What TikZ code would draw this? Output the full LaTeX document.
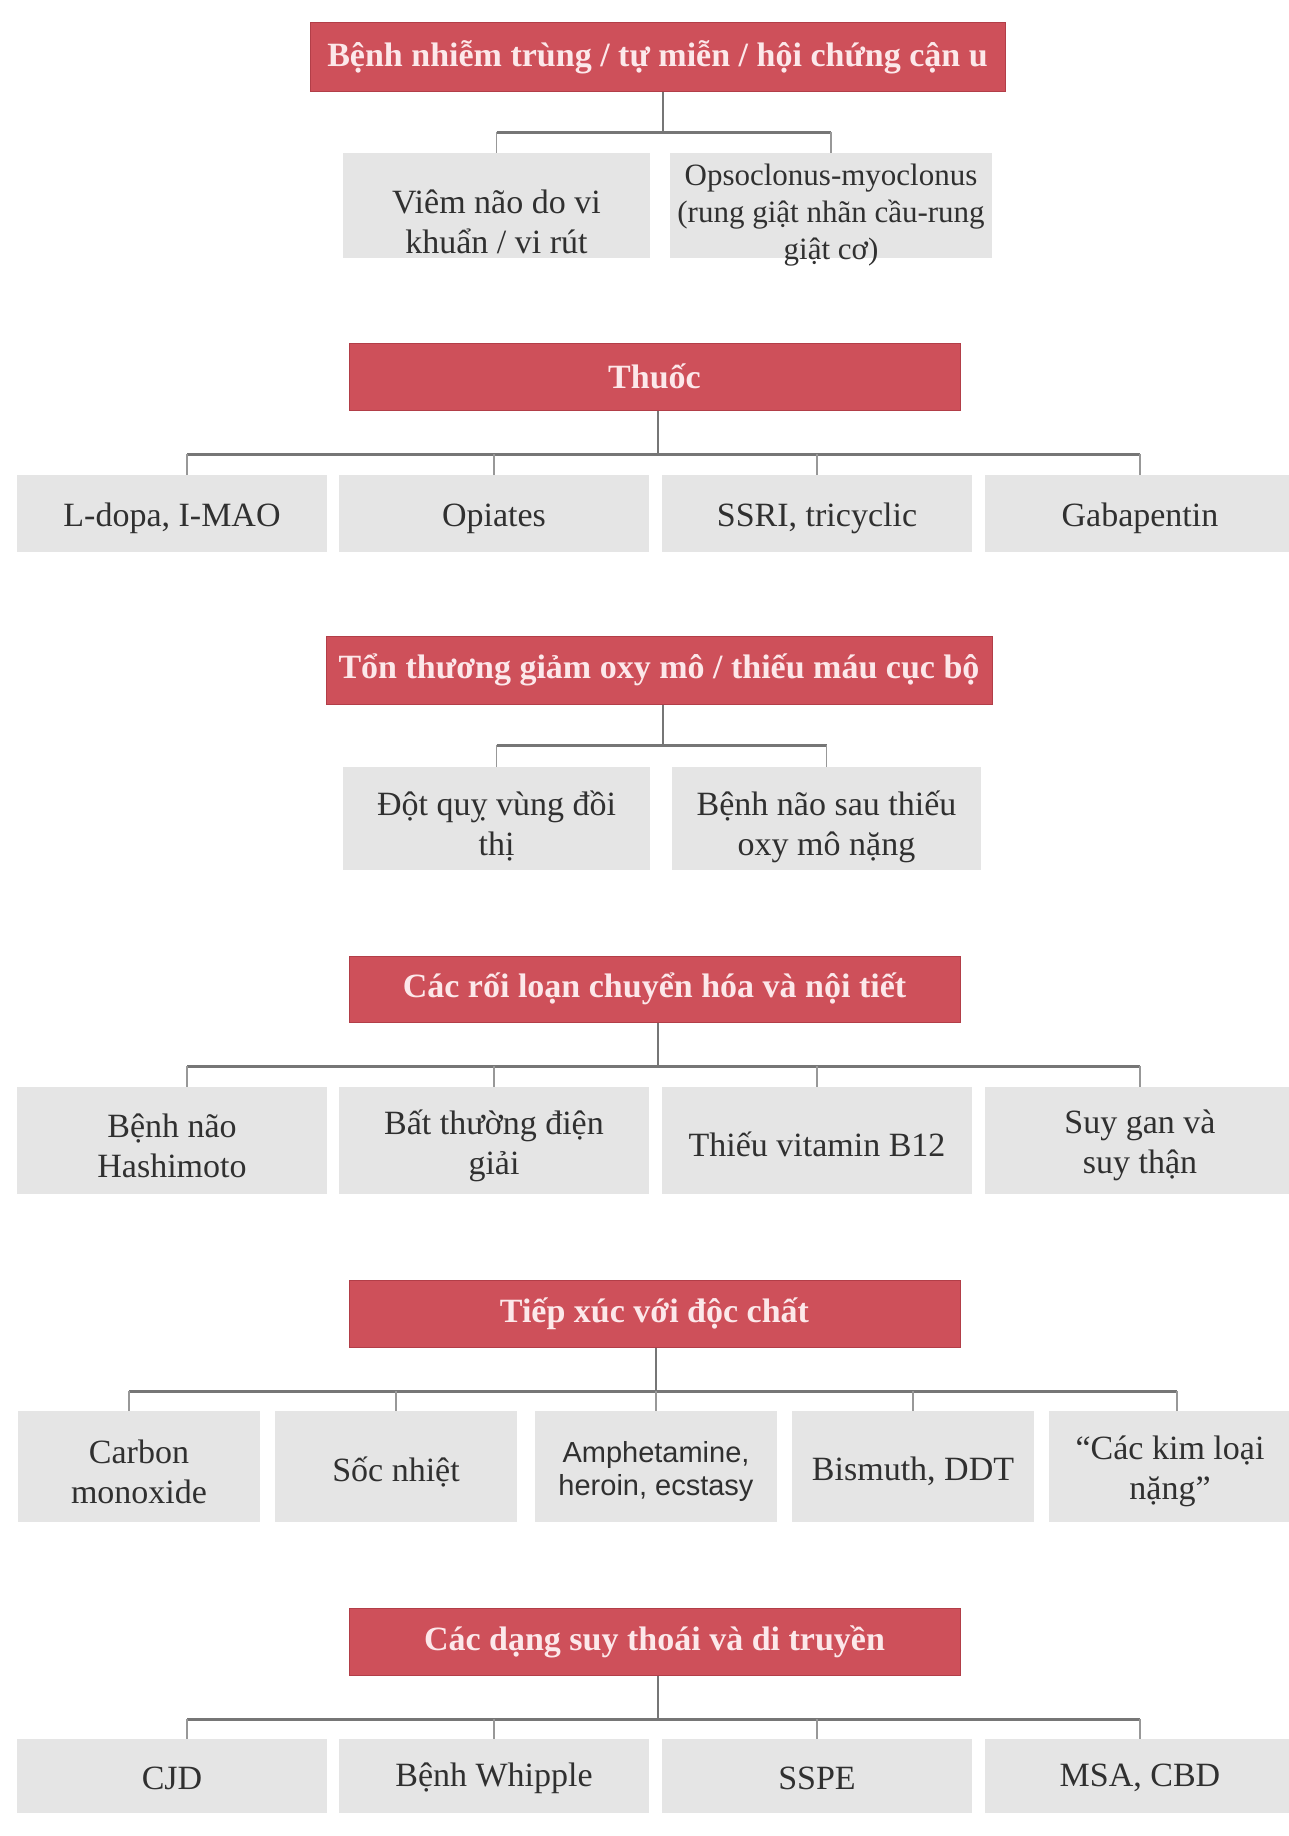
\documentclass[tikz,border=0pt]{standalone}
\usepackage{fontspec}
\setmainfont{Liberation Serif}
\newfontfamily\sansfam{Liberation Sans}
\definecolor{hdrred}{RGB}{206,80,90}
\definecolor{hdrline}{RGB}{178,62,72}
\definecolor{hdrtext}{RGB}{252,232,234}
\definecolor{leafgray}{RGB}{229,229,229}
\definecolor{leaftext}{RGB}{48,48,48}
\definecolor{linegray}{RGB}{118,118,118}
\begin{document}
\begin{tikzpicture}[x=1pt,y=-1pt,
  hdr/.style={fill=hdrred, draw=hdrline, line width=1pt, text=hdrtext,
    font=\fontsize{34}{39}\selectfont\bfseries, inner sep=0pt, minimum height=67pt},
  leaf/.style={fill=leafgray, draw=none, inner sep=0pt},
  ltxt/.style={text=leaftext, font=\fontsize{34}{40}\selectfont, align=center,
    inner sep=0pt, yshift=-5pt},
  four/.style={leaf, minimum width=310pt},
  five/.style={leaf, minimum width=242pt},
  trunk/.style={draw=linegray, line width=2.5pt},
  bus/.style={draw=linegray, line width=3pt},
  twig/.style={draw=linegray!75, line width=1.5pt}]
\useasboundingbox[fill=white] (0,0) rectangle (1288,1836);

% ---- Infectious / autoimmune / paraneoplastic ----
\node[hdr, minimum width=695pt, minimum height=68pt] (h1) at (657.5,57)
  {Bệnh nhiễm trùng / tự miễn / hội chứng cận u};
\node[leaf, minimum width=307pt, minimum height=105pt,
  label={[ltxt, yshift=-11pt]center:{Viêm não do vi\\khuẩn / vi rút}}] (c11) at (496.5,205.5) {};
\node[leaf, minimum width=322pt, minimum height=105pt,
  label={[ltxt, yshift=-5pt, font=\fontsize{31}{37}\selectfont]center:{Opsoclonus-myoclonus\\(rung giật nhãn cầu-rung\\giật cơ)}}]
  (c12) at (831,205.5) {};
\coordinate (b1) at (663,132);
\draw[trunk] (h1.south -| b1) -- (b1);
\draw[bus] (c11.north |- b1) -- (c12.north |- b1);
\foreach \c in {c11,c12} \draw[twig] (\c.north |- b1) -- (\c.north);

% ---- Drugs ----
\node[hdr, minimum width=611pt] (h2) at (654.5,376.5) {Thuốc};
\node[four, minimum height=77pt, label={[ltxt]center:{L-dopa, I-MAO}}] (c21) at (172,513.5) {};
\node[four, minimum height=77pt, label={[ltxt]center:{Opiates}}] (c22) at (494,513.5) {};
\node[four, minimum height=77pt, label={[ltxt]center:{SSRI, tricyclic}}] (c23) at (817,513.5) {};
\node[four, minimum height=77pt, label={[ltxt]center:{Gabapentin}}] (c24) at (1140,513.5) {};
\coordinate (b2) at (658,454);
\draw[trunk] (h2.south -| b2) -- (b2);
\draw[bus] ([xshift=15pt]c21.north |- b2) -- (c24.north |- b2);
\draw[twig] ([xshift=15pt]c21.north |- b2) -- ([xshift=15pt]c21.north);
\foreach \c in {c22,c23,c24} \draw[twig] (\c.north |- b2) -- (\c.north);

% ---- Hypoxic / ischaemic injury ----
\node[hdr, minimum width=666pt, minimum height=68pt] (h3) at (659,670)
  {Tổn thương giảm oxy mô / thiếu máu cục bộ};
\node[leaf, minimum width=307pt, minimum height=103pt,
  label={[ltxt, yshift=-2pt]center:{Đột quỵ vùng đồi\\thị}}] (c31) at (496.5,818.5) {};
\node[leaf, minimum width=309pt, minimum height=103pt,
  label={[ltxt, yshift=-3pt]center:{Bệnh não sau thiếu\\oxy mô nặng}}] (c32) at (826.5,818.5) {};
\coordinate (b3) at (663,745);
\draw[trunk] (h3.south -| b3) -- (b3);
\draw[bus] (c31.north |- b3) -- (c32.north |- b3);
\foreach \c in {c31,c32} \draw[twig] (\c.north |- b3) -- (\c.north);

% ---- Metabolic and endocrine ----
\node[hdr, minimum width=611pt, minimum height=66pt] (h4) at (654.5,989)
  {Các rối loạn chuyển hóa và nội tiết};
\node[four, minimum height=107pt, label={[ltxt]center:{Bệnh não\\Hashimoto}}] (c41) at (172,1140.5) {};
\node[four, minimum height=107pt, label={[ltxt]center:{Bất thường điện\\giải}}] (c42) at (494,1140.5) {};
\node[four, minimum height=107pt, label={[ltxt, yshift=1pt]center:{Thiếu vitamin B12}}] (c43) at (817,1140.5) {};
\node[four, minimum height=107pt, label={[ltxt]center:{Suy gan và\\suy thận}}] (c44) at (1140,1140.5) {};
\coordinate (b4) at (658,1066);
\draw[trunk] (h4.south -| b4) -- (b4);
\draw[bus] ([xshift=15pt]c41.north |- b4) -- (c44.north |- b4);
\draw[twig] ([xshift=15pt]c41.north |- b4) -- ([xshift=15pt]c41.north);
\foreach \c in {c42,c43,c44} \draw[twig] (\c.north |- b4) -- (\c.north);

% ---- Toxic exposure ----
\node[hdr, minimum width=611pt] (h5) at (654.5,1313.5) {Tiếp xúc với độc chất};
\node[five, minimum height=111pt, label={[ltxt]center:{Carbon\\monoxide}}] (c51) at (139,1466.5) {};
\node[five, minimum height=111pt, label={[ltxt]center:{Sốc nhiệt}}] (c52) at (396,1466.5) {};
\node[five, minimum height=111pt,
  label={[ltxt, font=\fontsize{29}{33}\selectfont\sansfam]center:{Amphetamine,\\heroin, ecstasy}}]
  (c53) at (656,1466.5) {};
\node[five, minimum height=111pt, label={[ltxt]center:{Bismuth, DDT}}] (c54) at (913,1466.5) {};
\node[five, minimum height=111pt, label={[ltxt]center:{“Các kim loại\\nặng”}}] (c55) at (1170,1466.5) {};
\coordinate (b5) at (656,1391);
\draw[trunk] (h5.south -| b5) -- (b5);
\draw[bus] ([xshift=-10pt]c51.north |- b5) -- ([xshift=7pt]c55.north |- b5);
\draw[twig] ([xshift=-10pt]c51.north |- b5) -- ([xshift=-10pt]c51.north);
\draw[twig] ([xshift=7pt]c55.north |- b5) -- ([xshift=7pt]c55.north);
\foreach \c in {c52,c53,c54} \draw[twig] (\c.north |- b5) -- (\c.north);

% ---- Degenerative and genetic ----
\node[hdr, minimum width=611pt] (h6) at (654.5,1641.5) {Các dạng suy thoái và di truyền};
\node[four, minimum height=74pt, label={[ltxt, yshift=3pt]center:{CJD}}] (c61) at (172,1776) {};
\node[four, minimum height=74pt, label={[ltxt, yshift=3pt]center:{Bệnh Whipple}}] (c62) at (494,1776) {};
\node[four, minimum height=74pt, label={[ltxt, yshift=3pt]center:{SSPE}}] (c63) at (817,1776) {};
\node[four, minimum height=74pt, label={[ltxt, yshift=3pt]center:{MSA, CBD}}] (c64) at (1140,1776) {};
\coordinate (b6) at (658,1719);
\draw[trunk] (h6.south -| b6) -- (b6);
\draw[bus] ([xshift=15pt]c61.north |- b6) -- (c64.north |- b6);
\draw[twig] ([xshift=15pt]c61.north |- b6) -- ([xshift=15pt]c61.north);
\foreach \c in {c62,c63,c64} \draw[twig] (\c.north |- b6) -- (\c.north);
\end{tikzpicture}
\end{document}
